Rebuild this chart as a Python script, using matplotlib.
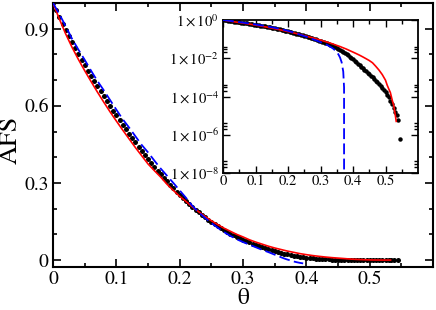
import numpy as np
import matplotlib
matplotlib.use("Agg")
import matplotlib.pyplot as plt
from matplotlib.ticker import FixedLocator, NullFormatter, FixedFormatter

plt.rcParams['font.family'] = ['STIXGeneral', 'DejaVu Serif']
plt.rcParams['mathtext.fontset'] = 'stix'

# ---- data ----
theta_sim = [0.000, 0.005, 0.010, 0.015, 0.020, 0.025, 0.030, 0.035, 0.040, 0.045,
             0.050, 0.055, 0.060, 0.065, 0.070, 0.075, 0.080, 0.085, 0.090, 0.095,
             0.100, 0.105, 0.110, 0.115, 0.120, 0.125, 0.130, 0.135, 0.140, 0.145,
             0.150, 0.155, 0.160, 0.165, 0.170, 0.175, 0.180, 0.185, 0.190, 0.195,
             0.200, 0.205, 0.210, 0.215, 0.220, 0.225, 0.230, 0.235, 0.240, 0.245,
             0.250, 0.255, 0.260, 0.265, 0.270, 0.275, 0.280, 0.285, 0.290, 0.295,
             0.300, 0.305, 0.310, 0.315, 0.320, 0.325, 0.330, 0.335, 0.340, 0.345,
             0.350, 0.355, 0.360, 0.365, 0.370, 0.375, 0.380, 0.385, 0.390, 0.395,
             0.400, 0.405, 0.410, 0.415, 0.420, 0.425, 0.430, 0.435, 0.440, 0.445,
             0.450, 0.455, 0.460, 0.465, 0.470, 0.475, 0.480, 0.485, 0.490, 0.495,
             0.500, 0.505, 0.510, 0.515, 0.520, 0.525, 0.530, 0.534, 0.538, 0.544]
afs_sim = [1.000, 0.973, 0.946, 0.920, 0.895, 0.871, 0.847, 0.824, 0.801, 0.779,
           0.758, 0.737, 0.717, 0.697, 0.677, 0.657, 0.638, 0.619, 0.600, 0.581,
           0.563, 0.545, 0.527, 0.509, 0.492, 0.475, 0.458, 0.441, 0.425, 0.409,
           0.393, 0.377, 0.362, 0.348, 0.334, 0.320, 0.306, 0.292, 0.279, 0.266,
           0.254, 0.242, 0.230, 0.218, 0.207, 0.196, 0.186, 0.176, 0.166, 0.157,
           0.148, 0.139, 0.131, 0.123, 0.116, 0.109, 0.102, 0.096, 0.090, 0.084,
           0.079, 0.074, 0.069, 0.064, 0.060, 0.055, 0.051, 0.047, 0.043, 0.039,
           0.035, 0.0315, 0.028, 0.025, 0.022, 0.019, 0.0165, 0.0142, 0.0122, 0.0104,
           0.0088, 0.0074, 0.0062, 0.0052, 0.0043, 0.0036, 0.0030, 0.0025, 0.0021, 0.0017,
           0.00145, 0.00120, 0.00099, 0.00081, 0.00066, 0.00054, 0.00043, 0.00034, 0.00027, 0.00021,
           0.000165, 0.000125, 0.000090, 0.000060, 0.000040, 0.000025, 0.000016, 0.0000105, 0.0000058, 0.00000059]

theta_red = [0.00, 0.01, 0.02, 0.03, 0.04, 0.05, 0.06, 0.07, 0.08, 0.09,
             0.10, 0.11, 0.12, 0.13, 0.14, 0.15, 0.16, 0.17, 0.18, 0.19,
             0.20, 0.21, 0.22, 0.23, 0.24, 0.25, 0.26, 0.27, 0.28, 0.29,
             0.30, 0.31, 0.32, 0.33, 0.34, 0.35, 0.36, 0.37, 0.38, 0.39,
             0.40, 0.41, 0.42, 0.43, 0.44, 0.45, 0.46, 0.47, 0.48, 0.49,
             0.50, 0.505, 0.51, 0.515, 0.52, 0.525, 0.53, 0.533]
afs_red = [1.000, 0.938, 0.880, 0.828, 0.781, 0.737, 0.695, 0.654, 0.615, 0.577,
           0.541, 0.506, 0.472, 0.438, 0.406, 0.374, 0.348, 0.323, 0.295, 0.271,
           0.248, 0.228, 0.207, 0.188, 0.170, 0.153, 0.138, 0.124, 0.112, 0.100,
           0.090, 0.079, 0.070, 0.062, 0.054, 0.047, 0.041, 0.035, 0.030, 0.025,
           0.021, 0.0175, 0.0145, 0.0118, 0.0095, 0.0076, 0.0058, 0.0038, 0.0024, 0.0014,
           0.00071, 0.00040, 0.00025, 0.00016, 0.000071, 0.000035, 0.000011, 0.000005]

theta_blue = [0.00, 0.01, 0.02, 0.03, 0.04, 0.05, 0.06, 0.07, 0.08, 0.09,
              0.10, 0.11, 0.12, 0.13, 0.14, 0.15, 0.16, 0.17, 0.18, 0.19,
              0.20, 0.21, 0.22, 0.23, 0.24, 0.25, 0.26, 0.27, 0.28, 0.29,
              0.30, 0.31, 0.32, 0.33, 0.34, 0.35, 0.355, 0.36, 0.365, 0.37,
              0.3725, 0.375, 0.38, 0.385, 0.39, 0.395]
afs_blue = [1.000, 0.957, 0.910, 0.861, 0.819, 0.779, 0.737, 0.697, 0.661, 0.623,
            0.585, 0.548, 0.516, 0.482, 0.448, 0.419, 0.387, 0.356, 0.328, 0.300,
            0.271, 0.242, 0.211, 0.186, 0.164, 0.144, 0.126, 0.109, 0.094, 0.081,
            0.070, 0.060, 0.050, 0.040, 0.031, 0.021, 0.016, 0.0110, 0.0062, 0.0020,
            0.0003, -0.0020, -0.0055, -0.0085, -0.0110, -0.0130]

main_xticks = [0.0, 0.1, 0.2, 0.3, 0.4, 0.5]
main_xticklabels = ['0', '0.1', '0.2', '0.3', '0.4', '0.5']
main_yticks = [0.0, 0.3, 0.6, 0.9]
main_yticklabels = ['0', '0.3', '0.6', '0.9']
inset_yticks = [1e0, 1e-2, 1e-4, 1e-6, 1e-8]
inset_yticklabels = [r'$1\times10^{0}$', r'$1\times10^{-2}$', r'$1\times10^{-4}$',
                     r'$1\times10^{-6}$', r'$1\times10^{-8}$']

W, H = 436, 310
fig = plt.figure(figsize=(W / 100, H / 100), dpi=100)


def box(l, t, r, b):
    return [l / W, (H - b) / H, (r - l) / W, (b - t) / H]


def draw(ax, ms):
    ax.plot(theta_sim, afs_sim, 'o', color='black', ms=ms, mew=0, zorder=2)
    ax.plot(theta_red, afs_red, '-', color='#ff0000', lw=1.2, zorder=3)
    ax.plot(theta_blue, afs_blue, '--', color='#0000ff', lw=1.3, dashes=(6, 2.4), zorder=4)


ax = fig.add_axes(box(53, 3, 433, 267))
draw(ax, 3.6)
ax.set_xlim(0, 0.6)
ax.set_ylim(-0.027, 1.0)
ax.xaxis.set_major_locator(FixedLocator(main_xticks))
ax.xaxis.set_major_formatter(FixedFormatter(main_xticklabels))
ax.xaxis.set_minor_locator(FixedLocator(np.arange(0.05, 0.6, 0.1)))
ax.yaxis.set_major_locator(FixedLocator(main_yticks))
ax.yaxis.set_major_formatter(FixedFormatter(main_yticklabels))
ax.yaxis.set_minor_locator(FixedLocator([0.1, 0.2, 0.4, 0.5, 0.7, 0.8]))
ax.tick_params(which='both', direction='in', top=True, right=True, width=1.2)
ax.tick_params(which='major', length=6, labelsize=14, pad=3)
ax.tick_params(which='minor', length=3)
ax.tick_params(axis='x', which='major', pad=2.5)
for s in ax.spines.values():
    s.set_linewidth(1.5)

# axis titles placed at the reference positions
fig.text(243 / W, 1 - 298 / H, 'θ', fontsize=17, ha='center', va='center')
fig.text(11 / W, 1 - 140 / H, 'AFS', fontsize=19, ha='center', va='center', rotation=90)

ins = fig.add_axes(box(223, 20, 418, 173))
draw(ins, 3.2)
ins.set_yscale('log')
ins.set_xlim(0, 0.6)
ins.set_ylim(1e-8, 1e0)
ins.xaxis.set_major_locator(FixedLocator(main_xticks))
ins.xaxis.set_major_formatter(FixedFormatter(main_xticklabels))
ins.xaxis.set_minor_locator(FixedLocator(np.arange(0.05, 0.6, 0.1)))
ins.yaxis.set_major_locator(FixedLocator(inset_yticks))
ins.yaxis.set_major_formatter(FixedFormatter(inset_yticklabels))
minor_y = []
for e in [-2, -4, -6, -8]:
    for m in [2, 3, 4]:
        minor_y.append(m * 10.0 ** e)
ins.yaxis.set_minor_locator(FixedLocator(minor_y))
ins.yaxis.set_minor_formatter(NullFormatter())
ins.tick_params(which='both', direction='in', top=True, right=True, width=1.0)
ins.tick_params(which='major', length=5, labelsize=10.5, pad=1.5)
ins.tick_params(axis='y', which='major', pad=2.8)
ins.tick_params(which='minor', length=3)
for s in ins.spines.values():
    s.set_linewidth(1.3)

fig.savefig('out.png', dpi=100)
